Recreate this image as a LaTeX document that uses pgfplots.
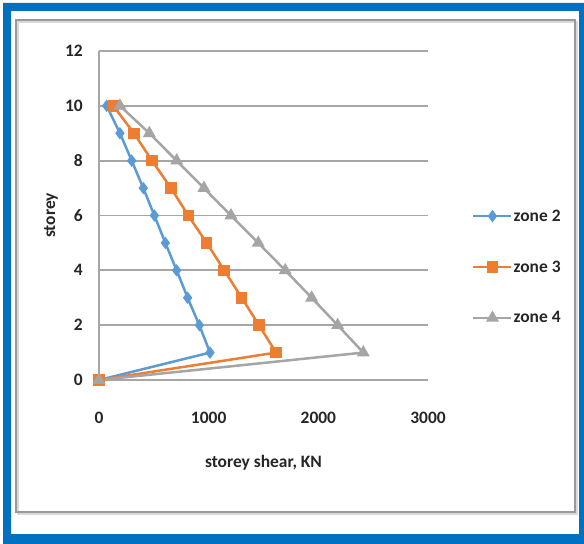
\documentclass[border=0pt]{standalone}
\usepackage{pgfplots}
\pgfplotsset{compat=1.18}
\usepackage{fontspec}
\setmainfont{Carlito}
\definecolor{zblue}{HTML}{5B9BD5}
\definecolor{zorange}{HTML}{ED7D31}
\definecolor{zgray}{HTML}{A5A5A5}
\definecolor{frameblue}{HTML}{0070C0}
\definecolor{gridgray}{HTML}{A6A6A6}
\definecolor{txt}{HTML}{262626}
\begin{document}
\begin{tikzpicture}[x=1bp,y=1bp]
\useasboundingbox (0,0) rectangle (584,-544);
\fill[white] (0,0) rectangle (584,-544);
\fill[frameblue, even odd rule] (3,-3) rectangle (584,-544) (11,-11) rectangle (579,-534);
\draw[gray!30, line width=2bp] (18,-22) rectangle (577,-514);
\draw[gray!80, line width=1.3bp] (16,-20) rectangle (575,-512);
\begin{axis}[
  at={(99bp,-380bp)}, anchor=south west,
  scale only axis, width=329bp, height=329bp,
  xmin=0, xmax=3000, ymin=0, ymax=12,
  xtick={0,1000,2000,3000}, ytick={0,2,4,6,8,10,12},
  scaled ticks=false,
  /pgf/number format/1000 sep={},
  /pgf/number format/assume math mode=true,
  axis y line*=left, axis x line*=bottom,
  x axis line style={draw=none},
  y axis line style={draw=gridgray, line width=1.8bp},
  major tick length=0pt,
  ymajorgrids,
  grid style={draw=gridgray, line width=1.8bp},
  ticklabel style={font=\fontsize{17.5}{20}\selectfont\bfseries, text=txt},
  yticklabel style={inner sep=0pt, anchor=east, xshift=-16bp},
  xticklabel style={inner sep=0pt, anchor=center, yshift=-38bp},
  xlabel={storey shear, KN},
  ylabel={storey},
  label style={font=\fontsize{17.5}{20}\selectfont\bfseries, text=txt},
  xlabel style={at={(axis description cs:0.5,0)}, anchor=center, yshift=-83bp},
  ylabel style={at={(axis description cs:0,0.5)}, anchor=center, yshift=48bp},
  clip=false,
  legend style={draw=none, fill=none, at={(rel axis cs:1.1337,0.3435)}, anchor=west,
    inner sep=0pt, row sep=36bp, font=\fontsize{17.5}{20}\selectfont\bfseries, text=txt,
    nodes={inner sep=1bp}},
  legend cell align=left,
  legend image code/.code={\draw[mark repeat=2,mark phase=2] plot coordinates {(0bp,0bp) (19bp,0bp) (38bp,0bp)};},
]
\addplot[zblue, line width=2.5bp, mark=diamond*, mark size=4.2bp, mark options={solid, fill=zblue}]
  coordinates {(0,0) (1012,1) (915,2) (808,3) (708,4) (605,5) (505,6) (404,7) (298,8) (191,9) (70,10)};
\addlegendentry{zone 2}
\addplot[zorange, line width=2.5bp, mark=square*, mark size=4.5bp, mark options={solid, fill=zorange}]
  coordinates {(0,0) (1614,1) (1459,2) (1301,3) (1142,4) (982,5) (814,6) (656,7) (483,8) (319,9) (130,10)};
\addlegendentry{zone 3}
\addplot[zgray, line width=2.5bp, mark=triangle*, mark size=5bp, mark options={solid, fill=zgray}]
  coordinates {(0,0) (2410,1) (2176,2) (1939,3) (1698,4) (1452,5) (1203,6) (957,7) (708,8) (459,9) (191,10)};
\addlegendentry{zone 4}
\end{axis}
\end{tikzpicture}
\end{document}
